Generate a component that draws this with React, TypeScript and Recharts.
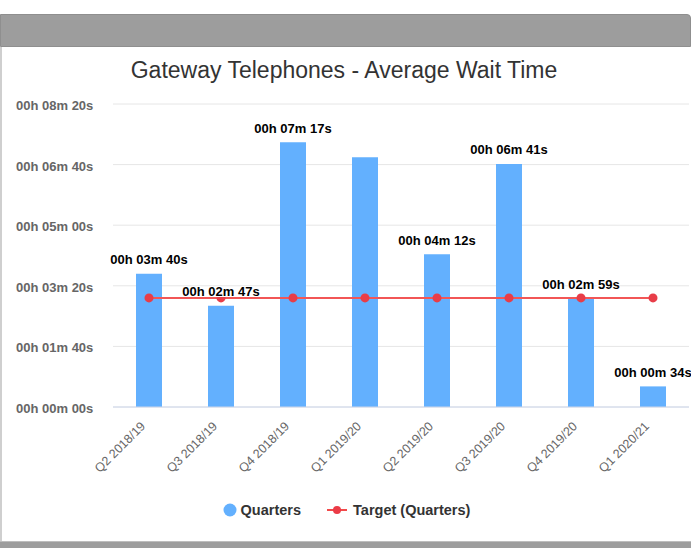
import React from 'react';
import { ComposedChart, Bar, Line, XAxis, YAxis, CartesianGrid, Legend, LabelList } from 'recharts';

const quarters = ['Q2 2018/19', 'Q3 2018/19', 'Q4 2018/19', 'Q1 2019/20', 'Q2 2019/20', 'Q3 2019/20', 'Q4 2019/20', 'Q1 2020/21'];
const waitSeconds = [220, 167, 437, 412, 252, 401, 179, 34];
const targetSeconds = [180, 180, 180, 180, 180, 180, 180, 180];
const yTicks = [0, 100, 200, 300, 400, 500];
const hiddenLabels = ['Q1 2019/20'];

const chartData = quarters.map((q, i) => ({ name: q, wait: waitSeconds[i], target: targetSeconds[i] }));

const pad = (n: number) => String(n).padStart(2, '0');
const fmt = (s: number) => {
  const h = Math.floor(s / 3600);
  const m = Math.floor((s % 3600) / 60);
  return `${pad(h)}h ${pad(m)}m ${pad(s % 60)}s`;
};

const FONT = '"Liberation Sans", Arial, sans-serif';

const YTick = ({ y, payload }: any) => (
  <text x={16} y={y} dy={6} textAnchor="start" fill="#666" fontSize={13} fontWeight="bold" fontFamily={FONT}>
    {fmt(payload.value)}
  </text>
);

const XTick = ({ x, y, payload }: any) => (
  <g transform={`translate(${x - 3},${y + 12})`}>
    <text textAnchor="end" transform="rotate(-45)" fill="#666" fontSize={12.5} fontFamily={FONT}>
      {payload.value}
    </text>
  </g>
);

const BarLabel = ({ x, y, width, value, index }: any) => {
  if (hiddenLabels.includes(quarters[index])) return null;
  return (
    <text
      x={x + width / 2}
      y={y - 14}
      dy={4.5}
      textAnchor="middle"
      fill="#000"
      fontSize={13}
      fontWeight="bold"
      fontFamily={FONT}
      stroke="#fff"
      strokeWidth={2}
      paintOrder="stroke"
    >
      {fmt(value)}
    </text>
  );
};

const LegendContent = () => (
  <div style={{ display: 'flex', justifyContent: 'center', alignItems: 'center', fontFamily: FONT, fontSize: 14.5, fontWeight: 'bold', color: '#333', paddingLeft: 4 }}>
    <svg width={14} height={14} style={{ marginRight: 4 }}>
      <circle cx={7} cy={7} r={6.5} fill="#63b0fe" />
    </svg>
    <span style={{ marginRight: 26 }}>Quarters</span>
    <svg width={20} height={12} style={{ marginRight: 6 }}>
      <line x1={0} y1={6} x2={20} y2={6} stroke="#f24a4a" strokeWidth={2} />
      <circle cx={10} cy={6} r={4} fill="#eb3b47" />
    </svg>
    <span>Target (Quarters)</span>
  </div>
);

export default function App() {
  return (
    <div style={{ position: 'absolute', left: 0, top: 0, width: 691, height: 548, background: '#fff', overflow: 'hidden' }}>
      <div style={{ position: 'absolute', left: 0, top: 14, width: 689, height: 31, background: '#9d9d9d', border: '1px solid #8f8f8f', borderTopRightRadius: 4 }} />
      <div style={{ position: 'absolute', left: 0, top: 47, width: 2, height: 494, background: '#cfcfcf' }} />
      <div style={{ position: 'absolute', left: 0, top: 541, width: 691, height: 7, background: '#9d9d9d', borderTop: '1px solid #bdbdbd' }} />
      <div style={{ position: 'absolute', left: 0, top: 57, width: 688, textAlign: 'center', fontFamily: FONT, fontSize: 23, color: '#333' }}>
        Gateway Telephones - Average Wait Time
      </div>
      <div style={{ position: 'absolute', left: 0, top: 47 }}>
        <ComposedChart width={691} height={494} data={chartData} margin={{ top: 57, right: 2, bottom: 9, left: 0 }}>
          <CartesianGrid vertical={false} stroke="#e6e6e6" />
          <XAxis
            dataKey="name"
            height={95}
            tick={<XTick />}
            tickLine={false}
            axisLine={{ stroke: '#ccd6eb' }}
            interval={0}
          />
          <YAxis
            width={113}
            domain={[0, 500]}
            ticks={yTicks}
            tick={<YTick />}
            tickLine={false}
            axisLine={false}
          />
          <Legend verticalAlign="bottom" height={30} content={<LegendContent />} />
          <Bar dataKey="wait" name="Quarters" fill="#63b0fe" barSize={26} isAnimationActive={false}>
            <LabelList dataKey="wait" content={<BarLabel />} />
          </Bar>
          <Line
            dataKey="target"
            name="Target (Quarters)"
            stroke="#f25656"
            strokeWidth={2}
            dot={{ r: 4.5, fill: '#e83d48', stroke: 'none' }}
            isAnimationActive={false}
          />
        </ComposedChart>
      </div>
    </div>
  );
}
